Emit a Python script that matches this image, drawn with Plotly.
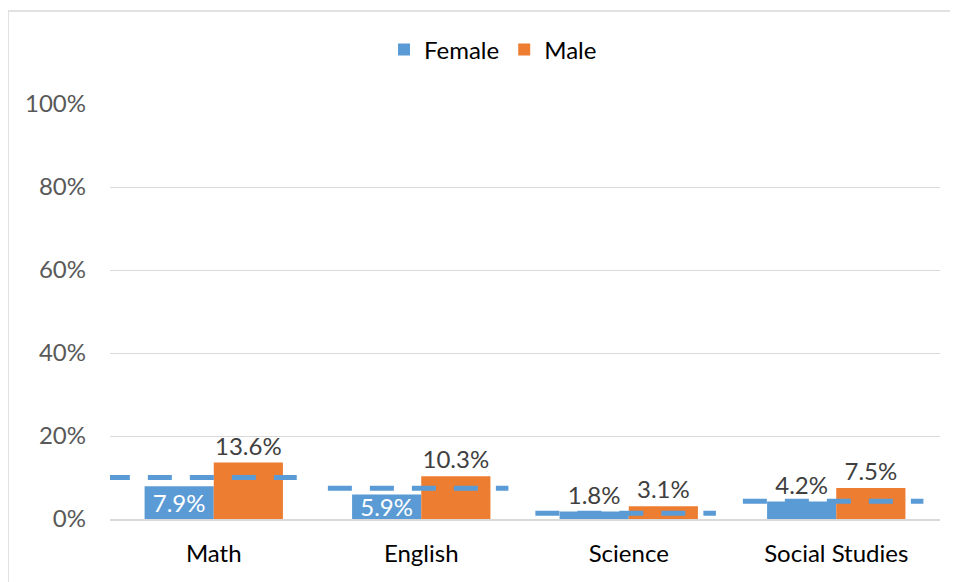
import plotly.graph_objects as go

categories = ["Math", "English", "Science", "Social Studies"]
female = [7.9, 5.9, 1.8, 4.2]
male = [13.6, 10.3, 3.1, 7.5]
overall = [10.0, 7.4, 1.4, 4.3]
y_ticks = [0, 20, 40, 60, 80, 100]

BLUE = "#5B9BD5"
ORANGE = "#ED7D31"
FONT = "Lato, Open Sans, sans-serif"
FS = 24

xs = list(range(len(categories)))
dash_left = [-0.52, -0.45, -0.45, -0.45]
dash_right = [0.40, 0.42, 0.42, 0.42]

fig = go.Figure()
fig.add_trace(go.Bar(
    x=xs, y=female, name="Female", marker=dict(color=BLUE, line=dict(width=0)),
    text=[f"{v:.1f}%" for v in female],
    textposition=["inside", "inside", "outside", "outside"],
    insidetextanchor="middle",
    textfont=dict(color=["#FFFFFF", "#FFFFFF", "#404040", "#404040"], size=FS, family=FONT),
    constraintext="none", cliponaxis=False,
))
fig.add_trace(go.Bar(
    x=xs, y=male, name="Male", marker=dict(color=ORANGE, line=dict(width=0)),
    text=[f"{v:.1f}%" for v in male], textposition="outside",
    textfont=dict(color="#404040", size=FS, family=FONT),
    constraintext="none", cliponaxis=False,
))
for i, v in enumerate(overall):
    fig.add_trace(go.Scatter(
        x=[i + dash_left[i], i + dash_right[i]], y=[v, v], mode="lines",
        line=dict(color=BLUE, width=5, dash="24px,18px"),
        showlegend=False, hoverinfo="skip", cliponaxis=False,
    ))

# page has an 8px body margin, so the figure is placed at (8, 8)
OFF = 8
FW, FH = 958 - OFF, 582 - OFF
L, R, T = 110 - OFF, 18, 104 - OFF
W = FW - L - R
H = 415
B = FH - T - H
bx = (8 - 110) / W
by = 1 + (104 - 11) / H
fig.add_shape(type="line", xref="paper", yref="paper", x0=bx, x1=bx, y0=-0.3, y1=by,
              line=dict(color="#D9D9D9", width=1.5))
fig.add_shape(type="line", xref="paper", yref="paper", x0=bx, x1=1.2, y0=by, y1=by,
              line=dict(color="#D9D9D9", width=1.5))

fig.update_layout(
    width=FW, height=FH,
    margin=dict(l=L, r=R, t=T, b=B),
    paper_bgcolor="white", plot_bgcolor="white",
    barmode="group", bargap=1/3, bargroupgap=0,
    font=dict(family=FONT, size=FS, color="#595959"),
    legend=dict(orientation="h", x=(493 - 110) / W, xanchor="center", y=1.0 + (104 - 50) / H,
                yanchor="middle", font=dict(size=FS, color="#000000"), itemwidth=30,
                traceorder="normal", itemsizing="constant"),
    xaxis=dict(tickvals=xs, ticktext=categories, range=[-0.5, len(categories) - 0.5],
               showgrid=False, showline=True, linecolor="#D9D9D9", linewidth=1.5,
               ticks="", tickfont=dict(size=FS, color="#000000"), zeroline=False,
               ticklabelstandoff=12),
    yaxis=dict(range=[0, 100], tickvals=y_ticks, ticktext=[f"{t}%" for t in y_ticks],
               showgrid=True, gridcolor="#D9D9D9", gridwidth=1, zeroline=False,
               ticks="", tickfont=dict(size=FS, color="#595959"), showline=False,
               ticklabelstandoff=23),
)
fig.write_html("out.html")
